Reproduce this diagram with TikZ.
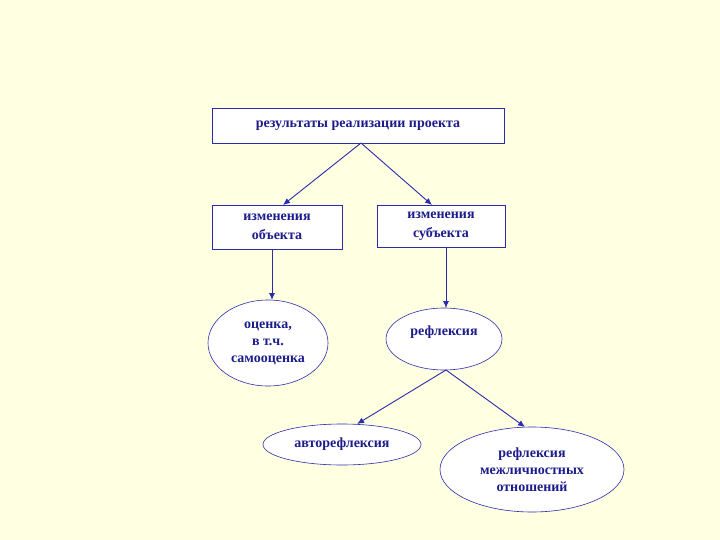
\documentclass[tikz,border=0pt]{standalone}
\usepackage{fontspec}
\setmainfont{Liberation Serif}
\usetikzlibrary{shapes.geometric,arrows.meta}
\definecolor{bgyellow}{HTML}{FFFFE1}
\definecolor{linblue}{HTML}{2B2BB0}
\definecolor{txtblue}{HTML}{1C1C8C}
\begin{document}
\begin{tikzpicture}[
        x=1pt,y=-1pt,
        box/.style = {
            draw=linblue,fill=white,outer sep=0pt,line width=0.8pt,
            inner sep=0pt,font=\bfseries\fontsize{14}{19}\selectfont,
            text=txtblue,align=center},
        oval/.style = {box,ellipse,line width=0.6pt,
            font=\bfseries\fontsize{14}{17}\selectfont},
        arr/.style = {-{Latex[length=7pt,width=6pt]},draw=linblue,line width=0.9pt},
]
        \fill[bgyellow] (0,0) rectangle (720,540);
        \useasboundingbox (0,0) rectangle (720,540);
        \node[box,minimum width=292,minimum height=35] (R) at (358,125.5) {результаты реализации проекта};
        \node[box,minimum width=130,minimum height=44] (O) at (277,227) {изменения\\объекта};
        \node[box,minimum width=128,minimum height=42] (S) at (441,226) {изменения\\субъекта};
        \node[oval,minimum width=120,minimum height=86] (E) at (268,343) {оценка,\\в т.ч.\\самооценка};
        \node[oval,minimum width=116,minimum height=62] (F) at (444,339) {рефлексия\\\mbox{}};
        \node[oval,minimum width=158,minimum height=41] (A) at (342,444.5) {авторефлексия};
        \node[oval,minimum width=184,minimum height=85] (M) at (532,469.5) {рефлексия\\межличностных\\отношений};
        \draw [arr] (R.south) ++(3,0) coordinate (r0) -- (283,205);
        \draw [arr] (r0) -- (432,205);
        \draw [arr] (O.south -| 272,0) -- (E.north -| 272,0);
        \draw [arr] (S.south -| 446,0) -- (F.north -| 446,0);
        \draw [arr] (F.south) ++(2,0) coordinate (f0) -- (357,424);
        \draw [arr] (f0) -- (525,427);
\end{tikzpicture}
\end{document}
